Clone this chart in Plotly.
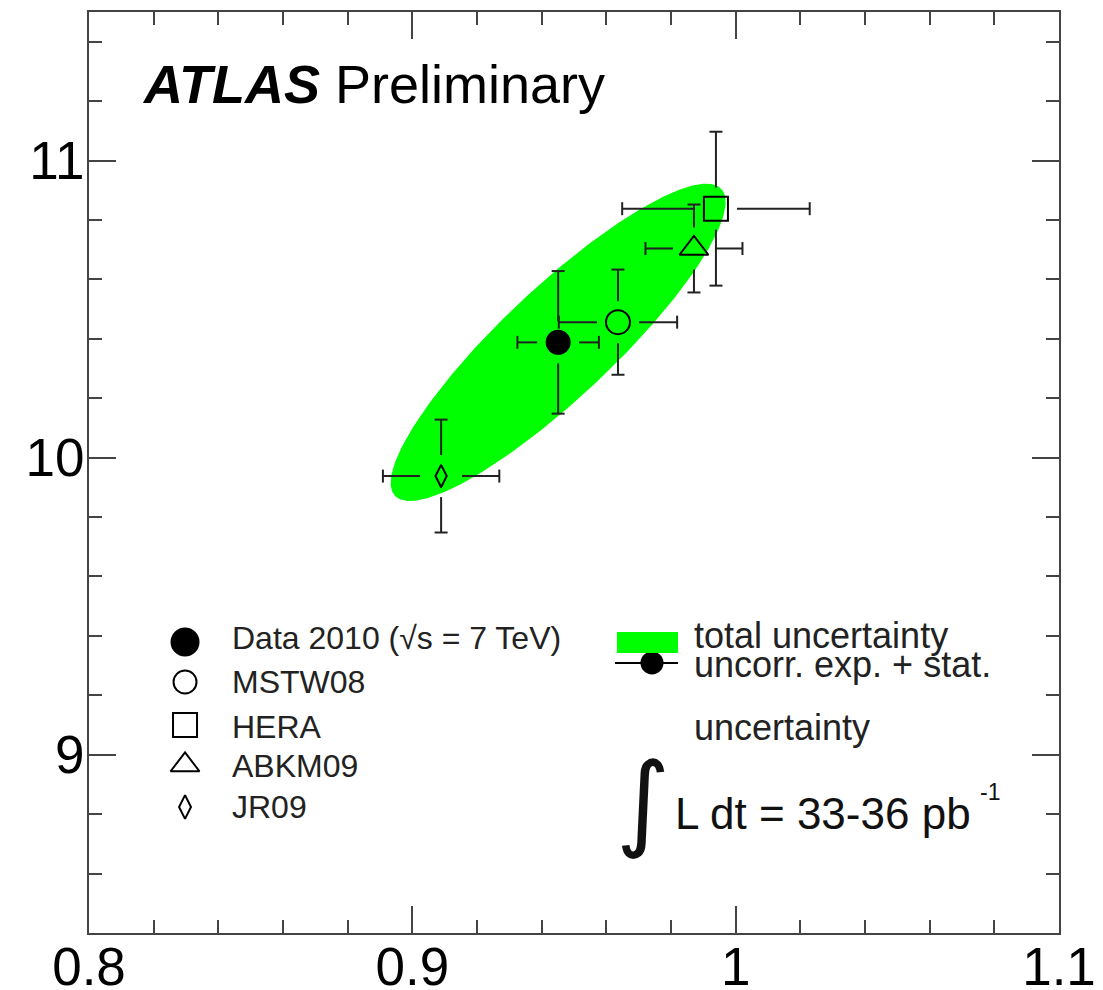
import numpy as np
import plotly.graph_objects as go

# ---- measured points (x: ratio, y: cross-section style value) ----
SET_NAMES = ["Data 2010", "MSTW08", "HERA", "ABKM09", "JR09"]
X_VAL = [0.9451, 0.9636, 0.9939, 0.9871, 0.9089]
Y_VAL = [10.388, 10.456, 10.838, 10.704, 9.938]
X_ERR = [0.0126, 0.0183, 0.0290, 0.0150, 0.0180]
Y_ERR = [0.240, 0.177, 0.259, 0.148, 0.190]
SYMBOLS = ["circle", "circle-open", "square-open", "triangle-up-open", "diamond-tall-open"]
SIZES = [23, 24, 24, 25, 16]

# ---- total-uncertainty ellipse around the data point ----
ELL_SIGMA_X = 0.0518
ELL_SIGMA_Y = 0.534
ELL_RHO = 0.885

# ---- axes ----
X_RANGE = [0.8, 1.1]
Y_RANGE = [8.4, 11.5]
X_TICKS = [0.8, 0.9, 1.0, 1.1]
X_TICKTEXT = ["0.8", "0.9", "1", "1.1"]
Y_TICKS = [9, 10, 11]
Y_TICKTEXT = ["9", "10", "11"]

W, H = 1103, 990
M_L, M_R, M_T, M_B = 89, 44, 12, 57
PLOT_W = W - M_L - M_R
PLOT_H = H - M_T - M_B
PX_X = PLOT_W / (X_RANGE[1] - X_RANGE[0])
PX_Y = PLOT_H / (Y_RANGE[1] - Y_RANGE[0])

GAP_PX = 21   # error bars stop short of the marker
CAP_PX = 6.5  # half-length of the end caps

FONT = "Liberation Sans, Arial, Helvetica, sans-serif"
GREEN = "#00ff00"
BAR_COL = "#222222"
FRAME = "#444444"

fig = go.Figure()

# ellipse outline from the covariance parameters
t = np.linspace(0, 2 * np.pi, 361)
ex = X_VAL[0] + ELL_SIGMA_X * np.cos(t)
ey = Y_VAL[0] + ELL_SIGMA_Y * (ELL_RHO * np.cos(t) + np.sqrt(1 - ELL_RHO ** 2) * np.sin(t))
fig.add_trace(go.Scatter(x=ex, y=ey, mode="lines", fill="toself", fillcolor=GREEN,
                         line=dict(width=0, color=GREEN), hoverinfo="skip", showlegend=False))

# error bars, drawn ROOT-style with a gap around each marker
bx, by = [], []
gx, gy = GAP_PX / PX_X, GAP_PX / PX_Y
cx, cy = CAP_PX / PX_X, CAP_PX / PX_Y
for x, y, sx, sy in zip(X_VAL, Y_VAL, X_ERR, Y_ERR):
    segs = [
        ((x - sx, y), (x - gx, y)), ((x + gx, y), (x + sx, y)),
        ((x, y - sy), (x, y - gy)), ((x, y + gy), (x, y + sy)),
        ((x - sx, y - cy), (x - sx, y + cy)), ((x + sx, y - cy), (x + sx, y + cy)),
        ((x - cx, y - sy), (x + cx, y - sy)), ((x - cx, y + sy), (x + cx, y + sy)),
    ]
    for (x0, y0), (x1, y1) in segs:
        bx += [x0, x1, None]
        by += [y0, y1, None]
fig.add_trace(go.Scatter(x=bx, y=by, mode="lines", line=dict(color=BAR_COL, width=2),
                         hoverinfo="skip", showlegend=False))

# central values
for name, x, y, sym, sz in zip(SET_NAMES, X_VAL, Y_VAL, SYMBOLS, SIZES):
    fig.add_trace(go.Scatter(x=[x], y=[y], mode="markers", name=name,
                             marker=dict(symbol=sym, size=sz, color="black",
                                         line=dict(color="black", width=2)),
                             showlegend=False))

# ---- legend block (drawn on an overlay in plot-fraction units) ----
LEG_LABELS = ["Data 2010 (\u221as = 7 TeV)", "MSTW08", "HERA", "ABKM09", "JR09"]
LEG_SIZES = [27, 23, 24, 25, 17]
LEG_X = 0.099
LEG_TX = 0.1454
LEG_MY = [0.3160, 0.2725, 0.2258, 0.1824, 0.1368]
LEG_TY = [0.3198, 0.2720, 0.2242, 0.1808, 0.1363]
for lab, sym, sz, my, ty in zip(LEG_LABELS, SYMBOLS, LEG_SIZES, LEG_MY, LEG_TY):
    fig.add_trace(go.Scatter(x=[LEG_X], y=[my], xaxis="x2", yaxis="y2", mode="markers",
                             marker=dict(symbol=sym, size=sz, color="black",
                                         line=dict(color="black", width=2)),
                             hoverinfo="skip", showlegend=False))
    fig.add_annotation(x=LEG_TX, y=ty, xref="paper", yref="paper", text=lab,
                       showarrow=False, xanchor="left", yanchor="middle",
                       font=dict(family=FONT, size=32, color="#222222"))

# right legend: swatch, marker with bar, texts
fig.add_shape(type="rect", xref="paper", yref="paper", x0=0.5443, x1=0.6072,
              y0=0.3040, y1=0.3268, fillcolor=GREEN, line=dict(width=0))
fig.add_trace(go.Scatter(x=[0.5423, 0.6072], y=[0.2932, 0.2932], xaxis="x2", yaxis="y2",
                         mode="lines", line=dict(color="black", width=2),
                         hoverinfo="skip", showlegend=False))
fig.add_trace(go.Scatter(x=[0.5804], y=[0.2932], xaxis="x2", yaxis="y2", mode="markers",
                         marker=dict(symbol="circle", size=23, color="black"),
                         hoverinfo="skip", showlegend=False))
RIGHT_TEXT = [("total uncertainty", 0.3225), ("uncorr. exp. + stat.", 0.2920),
              ("uncertainty", 0.2230)]
for txt, ty in RIGHT_TEXT:
    fig.add_annotation(x=0.6216, y=ty, xref="paper", yref="paper", text=txt,
                       showarrow=False, xanchor="left", yanchor="middle",
                       font=dict(family=FONT, size=36, color="#222222"))

# luminosity label
fig.add_annotation(x=0.5715, y=0.1435, xref="paper", yref="paper", text="\u222b",
                   showarrow=False, xanchor="center", yanchor="middle",
                   font=dict(family="DejaVu Sans, sans-serif", size=104, color="#111111"))
fig.add_annotation(x=0.6020, y=0.1300, xref="paper", yref="paper",
                   text="L dt = 33-36 pb",
                   showarrow=False, xanchor="left", yanchor="middle",
                   font=dict(family=FONT, size=44, color="#111111"))
fig.add_annotation(x=0.9170, y=0.1530, xref="paper", yref="paper", text="-1",
                   showarrow=False, xanchor="left", yanchor="middle",
                   font=dict(family=FONT, size=23, color="#111111"))

# experiment label
fig.add_annotation(x=0.0526, y=0.9218, xref="paper", yref="paper",
                   text="<b><i>ATLAS</i></b> Preliminary",
                   showarrow=False, xanchor="left", yanchor="middle",
                   font=dict(family=FONT, size=54, color="black"))

axis_common = dict(showline=True, linecolor=FRAME, linewidth=2, mirror="ticks",
                   ticks="inside", ticklen=27, tickwidth=2, tickcolor=FRAME,
                   showgrid=False, zeroline=False, automargin=False,
                   tickfont=dict(family=FONT, size=53, color="black"))

fig.update_layout(
    width=W, height=H,
    margin=dict(l=M_L, r=M_R, t=M_T, b=M_B),
    paper_bgcolor="white", plot_bgcolor="white",
    showlegend=False,
    xaxis=dict(range=X_RANGE, tickvals=X_TICKS, ticktext=X_TICKTEXT,
               ticklabelstandoff=-14,
               minor=dict(ticks="inside", ticklen=13, tickwidth=2, tickcolor=FRAME,
                          dtick=0.02, tick0=0.8, showgrid=False),
               **axis_common),
    yaxis=dict(range=Y_RANGE, tickvals=Y_TICKS, ticktext=Y_TICKTEXT,
               ticklabelstandoff=-8,
               minor=dict(ticks="inside", ticklen=13, tickwidth=2, tickcolor=FRAME,
                          dtick=0.2, tick0=8.4, showgrid=False),
               **axis_common),
    xaxis2=dict(range=[0, 1], overlaying="x", visible=False),
    yaxis2=dict(range=[0, 1], overlaying="y", visible=False),
)

fig.write_html("out.html")
